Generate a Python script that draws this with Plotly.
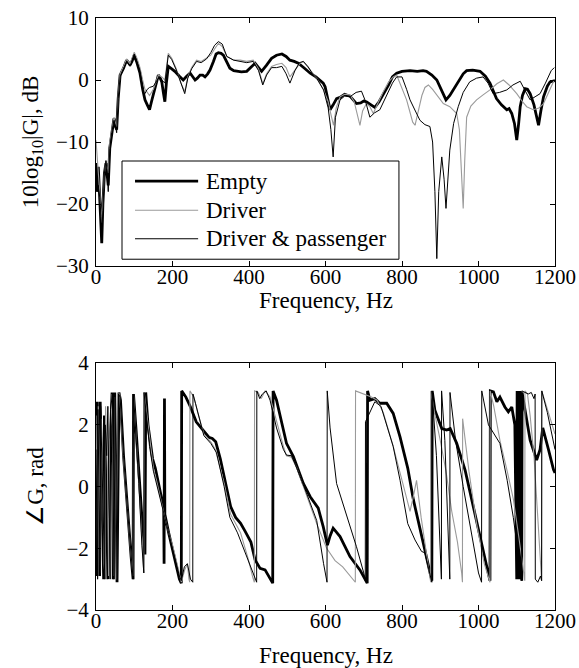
import plotly.graph_objects as go

# ---------------- data ----------------
# magnitude, (frequency Hz, 10log10|G| dB)
mag_empty = [(0,-13.4),(3,-18),(6,-14),(10,-20),(13,-24),(15,-26.3),(18,-20),(22,-15),(26,-13.4),(29,-15),
    (32,-17),(36,-11),(41,-8.6),(47,-6.2),(51,-7.5),(54,-8),(58,-3),(63,0.8),(72,1.9),(80,3.2),(85,2.8),(89,2.4),
    (94,3.0),(100,4.0),(107,2.8),(115,1.1),(122,-1.5),(128,-3.2),(134,-4.0),(140,-4.8),(145,-3.5),(150,-2.2),
    (157,-0.5),(163,0.8),(168,0.3),(172,-0.3),(176,-2.0),(180,-3.5),(184,-0.5),(189,2.2),(198,1.8),(206,1.4),
    (218,0.6),(228,0),(237,0.6),(246,1.1),(252,0.6),(259,0),(265,0.3),(272,0.8),(279,0.8),(285,0.5),(292,1.0),
    (298,1.6),(307,3.0),(314,4.2),(320,4.4),(327,4.3),(333,4.0),(341,3.0),(350,1.9),(360,1.5),(368,1.4),(380,1.3),
    (394,1.4),(405,2.0),(416,2.7),(425,2.0),(433,1.4),(446,2.4),(459,3.5),(472,4.0),(486,4.2),(497,3.8),(507,3.2),
    (518,3.0),(529,2.7),(545,1.9),(560,1.1),(575,0.5),(586,0),(594,-0.5),(599,-1.1),(604,-2.5),(608,-4.0),
    (612,-4.8),(620,-4.0),(629,-3.0),(638,-2.8),(650,-2.3),(664,-2.6),(672,-3.2),(681,-3.8),(692,-3.7),(700,-3.4),
    (707,-3.5),(718,-4.0),(729,-4.4),(740,-3.5),(751,-2.4),(765,-0.8),(775,0.5),(786,1.1),(800,1.4),(821,1.5),
    (840,1.4),(855,1.5),(864,1.4),(878,0.8),(891,0),(903,-1.5),(915,-3.2),(925,-2.5),(934,-1.6),(950,0),(960,1.0),
    (969,1.5),(985,1.6),(1004,1.4),(1018,0.6),(1030,-0.5),(1040,-2.0),(1047,-3.0),(1060,-4.0),(1074,-4.8),
    (1080,-4.6),(1087,-5.4),(1094,-7),(1100,-9.7),(1105,-7),(1109,-4.3),(1115,-2.5),(1122,-1.4),(1128,-1.5),
    (1135,-2.2),(1145,-4),(1152,-6),(1157,-7.3),(1163,-5),(1170,-2.7),(1180,-1.0),(1187,-0.3),(1200,-0.1)]

mag_driver = [(0,-9.7),(3,-12),(6,-15),(10,-18),(13,-21),(15,-23),(18,-19),(22,-15),(26,-13),(29,-14),(32,-15),
    (36,-10),(41,-8.0),(47,-6.0),(51,-7.0),(54,-7.5),(58,-2.5),(63,1.0),(72,2.2),(80,3.4),(89,2.6),(100,4.5),
    (107,3.5),(115,2.0),(122,0),(128,-1.5),(134,-2.0),(140,-2.5),(150,-1.5),(163,0.8),(172,0.5),(180,0),(189,4.3),
    (198,3.5),(210,1.8),(222,-0.5),(232,-1.9),(240,0.5),(250,2.0),(263,3.2),(275,3.0),(289,3.5),(300,4.0),
    (310,5.0),(320,5.9),(330,5.4),(342,3.8),(360,3.2),(377,3.2),(394,3.0),(411,3.2),(425,1.8),(436,-0.6),
    (446,1.0),(459,2.2),(472,2.5),(486,2.7),(497,2.0),(507,0.5),(520,1.6),(532,2.6),(542,3.0),(555,2.0),
    (566,1.0),(577,0.3),(595,-1.6),(607,-3.5),(614,-5.5),(621,-7.3),(628,-4.5),(638,-2.7),(650,-2.3),(664,-2.4),
    (675,-3.5),(683,-5.5),(690,-7.3),(697,-5.0),(707,-3.8),(716,-4.3),(725,-5.4),(735,-4.0),(750,-2.0),
    (765,-0.3),(777,0.5),(786,0.8),(795,-0.5),(804,-2.0),(812,-3.2),(820,-5),(828,-6.8),(834,-7.3),(842,-5.0),
    (852,-2.5),(860,-1.2),(869,-0.8),(880,-1.5),(895,-2.8),(908,-3.8),(925,-4.3),(937,-5.0),(943,-5.4),(950,-8),
    (955,-14),(960,-20.7),(964,-13),(969,-6),(980,-4.2),(995,-3.2),(1012,-2.4),(1030,-1.6),(1048,-0.6),(1065,0),
    (1080,-0.8),(1100,-2.2),(1115,-3.5),(1126,-4.3),(1143,-4.8),(1158,-4.5),(1170,-3.8),(1185,-1.8),(1198,0)]

mag_both = [(0,-16),(3,-18),(6,-17),(10,-19),(13,-22),(15,-25),(18,-21),(22,-15),(26,-13),(29,-14.5),(32,-18),
    (36,-11),(41,-8.5),(47,-6.5),(51,-7.5),(54,-8.5),(58,-3),(63,0.5),(72,1.8),(80,3.0),(89,2.2),(100,4.2),
    (107,3.0),(115,1.5),(122,-1.0),(125,-2.5),(134,-1.5),(140,-1.2),(150,-1.0),(163,0.3),(172,0.0),(180,-0.5),
    (189,4.0),(198,3.3),(210,1.6),(222,-0.6),(232,-2.2),(240,0.3),(250,1.8),(263,3.0),(275,2.8),(289,3.4),
    (300,4.4),(310,5.6),(320,6.2),(330,5.8),(342,3.8),(360,3.2),(377,3.0),(394,2.8),(411,3.0),(425,1.5),
    (436,-0.8),(446,0.8),(459,2.0),(472,2.0),(486,2.2),(497,1.0),(507,-0.5),(520,1.5),(532,2.8),(542,3.0),
    (555,2.1),(566,1.0),(577,0.3),(595,-1.6),(607,-4.5),(614,-8),(620,-12.4),(626,-6),(638,-3.2),(650,-2.6),
    (664,-2.7),(680,-2.0),(694,-1.8),(705,-3.5),(716,-6.0),(728,-5.3),(742,-4.8),(760,-2.5),(775,-0.5),
    (786,0.5),(800,0.5),(812,-1.5),(821,-3.2),(835,-5),(847,-6.5),(860,-7.2),(873,-7.5),(880,-10),(886,-18),
    (891,-28.8),(896,-18),(904,-12.4),(910,-16),(915,-20.7),(920,-15),(925,-11.3),(935,-7),(947,-4.3),(960,-2),
    (977,-0.3),(995,0.3),(1012,0.5),(1025,-0.5),(1038,-2.2),(1055,-2.0),(1074,-1.6),(1090,-0.8),(1109,-0.2),
    (1120,-1.5),(1135,-3.2),(1148,-2.7),(1161,-2.2),(1175,-0.5),(1190,1.5),(1198,2.0)]

# phase, (frequency Hz, angle rad) -- wrapped values as drawn
ph_empty = [(0,1.7),(2,-2.9),(3,2.75),(6,0.5),(9,-2.9),(11,2.75),(13,1.4),(16,-1.0),(20,-3.0),(22,2.3),(27,0.0),
    (31,-3.0),(36,1.0),(42,3.05),(45,-3.0),(49,3.05),(52,0.0),(55,-3.1),(60,3.05),(64,2.8),(72,1.0),(82,-0.8),
    (92,-2.3),(97,-3.0),(98,3.0),(105,1.8),(112,0.4),(120,-1.0),(128,-2.2),(130,3.05),(136,2.0),(142,1.35),
    (148,0.9),(155,0.6),(165,0.0),(172,-0.4),(177,-0.7),(178,-2.5),(179,2.85),(180,-0.9),(190,-1.5),(200,-2.0),
    (210,-2.6),(218,-3.0),(223,-3.13),(224,3.1),(235,2.9),(247,2.58),(262,2.1),(282,1.78),(295,1.6),(304,1.56),
    (313,1.45),(325,0.9),(335,0.32),(352,-0.65),(365,-1.0),(378,-1.19),(390,-1.45),(397,-1.62),(405,-1.8),
    (416,-2.38),(429,-2.65),(442,-2.7),(455,-2.97),(462,-3.13),(463,3.1),(472,2.8),(485,2.1),(498,1.4),
    (516,0.97),(530,0.5),(542,0.1),(560,-0.33),(581,-0.7),(594,-1.3),(605,-1.9),(612,-1.6),(620,-1.35),
    (638,-1.62),(664,-2.27),(690,-2.7),(709,-3.13),(710,3.1),(716,2.8),(729,2.85),(742,2.7),(760,2.7),(777,2.37),
    (795,1.6),(815,0.6),(830,-0.44),(852,-1.6),(869,-2.5),(878,-3.05),(879,3.1),(886,2.47),(904,1.88),(917,1.83),
    (926,1.88),(943,1.4),(965,0.53),(995,-1.1),(1015,-2.2),(1026,-2.8),(1030,-3.05),(1031,3.1),(1039,3.07),
    (1048,2.75),(1056,2.9),(1069,2.58),(1078,2.42),(1087,2.58),(1095,2.0),(1100,-3.0),(1101,3.1),(1104,-3.0),
    (1105,3.1),(1108,-3.0),(1109,3.1),(1113,-3.05),(1114,3.05),(1120,2.6),(1135,1.5),(1152,0.86),(1161,1.2),
    (1168,1.9),(1175,1.6),(1183,1.2),(1196,0.55),(1200,0.44)]

ph_driver = [(0,2.3),(3,-1.8),(5,-3.0),(6,2.6),(9,0.5),(12,-2.8),(13,2.2),(17,0.5),(21,-2.5),(24,-3.0),(25,2.6),
    (30,0.5),(33,-2.9),(36,1.5),(42,3.0),(46,-2.9),(50,2.9),(54,-3.0),(58,3.0),(62,3.0),(70,1.2),(80,-0.5),
    (90,-2.0),(97,-2.9),(98,3.0),(104,1.8),(112,0.0),(120,-2.0),(125,-2.8),(126,3.05),(135,2.1),(142,1.3),
    (150,0.6),(160,0.1),(170,-0.5),(180,-1.0),(190,-1.5),(200,-1.9),(210,-2.4),(218,-2.9),(223,-3.1),(232,-2.7),
    (239,-2.5),(243,-3.0),(245,-3.1),(245.5,3.1),(256,2.9),(266,2.4),(282,1.7),(300,1.45),(312,1.2),(335,0.1),
    (352,-0.9),(378,-1.5),(397,-2.3),(410,-2.95),(414,-3.1),(414.5,3.1),(424,3.05),(432,2.85),(442,3.1),
    (455,2.9),(472,2.1),(490,1.3),(498,1.0),(511,0.95),(525,0.6),(550,-0.3),(577,-1.2),(603,-2.0),(625,-2.4),
    (645,-2.6),(665,-2.9),(678,-3.1),(678.5,3.1),(700,3.0),(720,2.9),(735,2.8),(751,2.4),(777,1.3),(795,0.4),
    (810,-0.3),(821,-0.8),(830,-0.3),(838,0.2),(850,-1.0),(860,-1.8),(869,-2.5),(875,-3.1),(875.5,3.1),
    (885,2.4),(900,1.5),(915,0.5),(930,-0.8),(945,-1.8),(956,-2.8),(958,-3.1),(958.5,2.2),(975,0.5),(995,-1.2),
    (1015,-2.5),(1030,-3.1),(1030.5,3.1),(1040,2.6),(1056,1.5),(1075,0.5),(1091,-0.4),(1105,-1.6),(1121,-3.05),
    (1121.5,3.1),(1128,3.0),(1135,2.3),(1145,1.0),(1155,-1.0),(1163,-2.9),(1165,-3.05),(1165.5,3.1),(1180,2.5),
    (1200,1.7)]

ph_both = [(0,1.2),(2,-2.5),(4,-3.0),(5,2.5),(8,0.2),(11,-2.9),(12,2.6),(15,1.0),(19,-1.5),(23,-3.0),(24,2.0),
    (28,1.0),(31,2.6),(34,-1.0),(37,-3.0),(38,2.5),(43,3.0),(47,-3.0),(50,3.0),(55,-3.0),(59,3.0),(63,2.9),
    (72,1.0),(82,-0.7),(92,-2.2),(97,-3.0),(98,3.0),(104,1.9),(112,0.1),(120,-1.9),(125,-2.8),(125.5,3.05),
    (132,2.2),(140,1.3),(150,0.5),(160,0.0),(170,-0.5),(180,-1.0),(190,-1.5),(200,-2.0),(210,-2.5),(218,-2.9),
    (223,-3.05),(231,-2.6),(239,-2.5),(247,-3.0),(253,-3.1),(253.5,3.0),(260,2.7),(270,2.2),(282,1.65),
    (300,1.4),(315,1.1),(335,0.0),(350,-1.0),(370,-1.5),(397,-2.4),(412,-2.9),(420,-3.1),(420.5,3.1),(428,2.85),
    (435,3.0),(445,3.1),(455,2.8),(472,1.9),(490,1.2),(498,1.02),(511,1.0),(525,0.6),(550,-0.2),(577,-1.1),
    (595,-2.5),(604,-3.1),(604.5,3.1),(612,1.9),(629,0.1),(655,-0.9),(681,-1.95),(700,-2.8),(704,-3.05),
    (704.5,2.1),(716,2.4),(729,2.75),(745,2.6),(760,2.0),(777,1.3),(795,0.2),(815,-1.2),(834,-1.73),(851,-2.1),
    (860,-2.15),(869,-2.6),(878,-3.1),(878.5,3.1),(890,1.0),(903,-3.0),(903.5,3.1),(912,1.5),(925,-3.0),
    (925.5,3.05),(940,1.5),(960,0.0),(985,-1.8),(1000,-2.8),(1008,-3.1),(1008.5,3.1),(1026,2.0),(1040,1.7),
    (1047,1.56),(1056,1.4),(1075,0.2),(1091,-1.0),(1105,-2.3),(1113,-3.05),(1113.5,3.1),(1130,3.0),(1138,3.05),
    (1145,2.85),(1148,3.0),(1148.5,-3.0),(1155,-3.1),(1162,-2.9),(1165,-3.05),(1165.5,3.1),(1180,2.4),(1200,1.2)]

series_names = ["Empty", "Driver", "Driver & passenger"]
x_ticks = [0, 200, 400, 600, 800, 1000, 1200]
mag_ticks = [-30, -20, -10, 0, 10]
phase_ticks = [-4, -2, 0, 2, 4]

# ---------------- figure ----------------
FONT = "Liberation Serif"
styles = [dict(color="black", width=2.8), dict(color="#9a9a9a", width=1.1), dict(color="black", width=1.0)]

fig = go.Figure()
for name, data, st in zip(series_names, [mag_empty, mag_driver, mag_both], styles):
    fig.add_trace(go.Scatter(x=[p[0] for p in data], y=[p[1] for p in data], mode="lines",
                             line=st, name=name, showlegend=False, xaxis="x", yaxis="y"))
for name, data, st in zip(series_names, [ph_empty, ph_driver, ph_both], styles):
    fig.add_trace(go.Scatter(x=[p[0] for p in data], y=[p[1] for p in data], mode="lines",
                             line=st, name=name, showlegend=False, xaxis="x2", yaxis="y2"))

# legend box (MATLAB-style, inside the top axes)
shapes = [dict(type="rect", xref="x", yref="y", x0=68, x1=792, y0=-28.9, y1=-13.06,
               line=dict(color="black", width=1), fillcolor="white", layer="above")]
title_font = dict(family=FONT, size=23, color="black")
annotations = []
legend_rows = [-16.3, -21.0, -25.6]
for name, st, yy in zip(series_names, styles, legend_rows):
    shapes.append(dict(type="line", xref="x", yref="y", x0=102, x1=267, y0=yy, y1=yy,
                       line=dict(color=st["color"], width=st["width"]), layer="above"))
    annotations.append(dict(xref="x", yref="y", x=283, y=yy, text=name, showarrow=False,
                            xanchor="left", yanchor="middle", font=title_font))

# x-axis titles placed like MATLAB xlabel
for ypos in [0.5236, -0.0777]:
    annotations.append(dict(xref="paper", yref="paper", x=0.5, y=ypos, text="Frequency, Hz",
                            showarrow=False, xanchor="center", yanchor="middle", font=title_font))

axis_common = dict(showline=True, linecolor="black", linewidth=1, mirror="ticks", ticks="inside",
                   ticklen=5, tickcolor="black", showgrid=False, zeroline=False, automargin=False,
                   tickfont=dict(family=FONT, size=21, color="black"))

fig.update_layout(
    width=579, height=668,
    margin=dict(l=96, r=24, t=18, b=58, autoexpand=False),
    paper_bgcolor="white", plot_bgcolor="white",
    font=dict(family=FONT, size=21, color="black"),
    xaxis=dict(domain=[0, 1], anchor="y", range=[0, 1200], tickvals=x_ticks, ticklabelstandoff=-8,
               **axis_common),
    yaxis=dict(domain=[0.581, 1], anchor="x", range=[-30, 10], tickvals=mag_ticks, ticklabelstandoff=2,
               title=dict(text="10log<sub>10</sub>|G|, dB", standoff=10, font=title_font), **axis_common),
    xaxis2=dict(domain=[0, 1], anchor="y2", range=[0, 1200], tickvals=x_ticks, ticklabelstandoff=-8,
                **axis_common),
    yaxis2=dict(domain=[0, 0.417], anchor="x2", range=[-4, 4], tickvals=phase_ticks, ticklabelstandoff=2,
                title=dict(text="∠G, rad", standoff=16, font=title_font), **axis_common),
    shapes=shapes, annotations=annotations,
    showlegend=False,
)

fig.write_html("out.html", config={"displayModeBar": False},
               post_script="document.body.style.margin='0';document.body.style.overflow='hidden';")
